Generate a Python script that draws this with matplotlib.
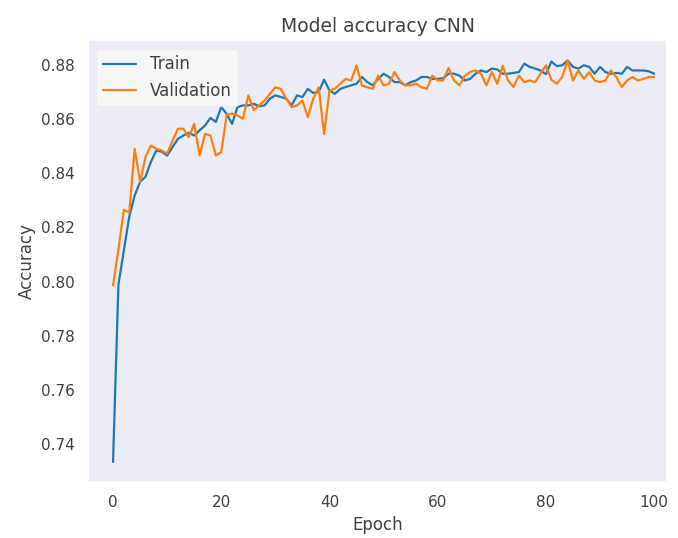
import numpy as np
import matplotlib
matplotlib.use("Agg")
import matplotlib.pyplot as plt
import seaborn as sns

# accuracy history per epoch
train_acc = [
    0.7335, 0.7990, 0.8115, 0.8240, 0.8318, 0.8368, 0.8387, 0.8442, 0.8484, 0.8479,
    0.8465, 0.8497, 0.8527, 0.8539, 0.8549, 0.8539, 0.8558, 0.8576, 0.8604, 0.8589,
    0.8644, 0.8619, 0.8582, 0.8644, 0.8650, 0.8650, 0.8656, 0.8647, 0.8650, 0.8675,
    0.8687, 0.8681, 0.8675, 0.8650, 0.8687, 0.8681, 0.8711, 0.8696, 0.8700, 0.8745,
    0.8705, 0.8693, 0.8711, 0.8718, 0.8724, 0.8730, 0.8755, 0.8736, 0.8724, 0.8748,
    0.8767, 0.8755, 0.8736, 0.8736, 0.8724, 0.8736, 0.8742, 0.8755, 0.8755, 0.8748,
    0.8748, 0.8750, 0.8767, 0.8767, 0.8760, 0.8742, 0.8748, 0.8767, 0.8779, 0.8773,
    0.8786, 0.8783, 0.8767, 0.8767, 0.8770, 0.8773, 0.8804, 0.8792, 0.8786, 0.8779,
    0.8765, 0.8812, 0.8795, 0.8798, 0.8816, 0.8792, 0.8786, 0.8798, 0.8792, 0.8767,
    0.8792, 0.8773, 0.8767, 0.8770, 0.8767, 0.8792, 0.8779, 0.8779, 0.8779, 0.8776,
    0.8767,
]
val_acc = [
    0.7986, 0.8120, 0.8265, 0.8255, 0.8490, 0.8367, 0.8460, 0.8502, 0.8490, 0.8484,
    0.8472, 0.8521, 0.8564, 0.8564, 0.8533, 0.8582, 0.8465, 0.8545, 0.8539, 0.8465,
    0.8478, 0.8615, 0.8620, 0.8613, 0.8601, 0.8687, 0.8633, 0.8650, 0.8668, 0.8693,
    0.8717, 0.8711, 0.8675, 0.8644, 0.8650, 0.8668, 0.8607, 0.8675, 0.8717, 0.8545,
    0.8705, 0.8712, 0.8730, 0.8748, 0.8742, 0.8797, 0.8724, 0.8717, 0.8711, 0.8760,
    0.8724, 0.8730, 0.8773, 0.8742, 0.8724, 0.8724, 0.8730, 0.8717, 0.8711, 0.8760,
    0.8742, 0.8742, 0.8788, 0.8742, 0.8724, 0.8760, 0.8773, 0.8779, 0.8767, 0.8724,
    0.8773, 0.8730, 0.8796, 0.8742, 0.8718, 0.8760, 0.8736, 0.8742, 0.8736, 0.8767,
    0.8798, 0.8745, 0.8730, 0.8755, 0.8816, 0.8742, 0.8779, 0.8748, 0.8773, 0.8742,
    0.8736, 0.8742, 0.8779, 0.8755, 0.8718, 0.8742, 0.8755, 0.8742, 0.8748, 0.8755,
    0.8755,
]
labels = ["Train", "Validation"]

sns.set_theme(style="dark")
plt.rcParams["axes.facecolor"] = "#ECECF4"
plt.rcParams["text.color"] = "0.25"
plt.rcParams["axes.labelcolor"] = "0.25"
plt.rcParams["xtick.color"] = "0.25"
plt.rcParams["ytick.color"] = "0.25"

fig = plt.figure(figsize=(6.78, 5.38), dpi=100)
ax = fig.add_axes([0.130, 0.104, 0.854, 0.821])

ax.plot(train_acc, color="tab:blue", linewidth=1.6, label=labels[0])
ax.plot(val_acc, color="tab:orange", linewidth=1.6, label=labels[1])

ax.set_xlim(-4.6, 102.4)
ax.set_title("Model accuracy CNN", fontsize=13.5)
ax.set_xlabel("Epoch")
ax.set_ylabel("Accuracy")
ax.legend(loc="upper left", fontsize=12, facecolor="white", framealpha=0.6,
          edgecolor="0.92")

plt.savefig("out.png", dpi=100)
